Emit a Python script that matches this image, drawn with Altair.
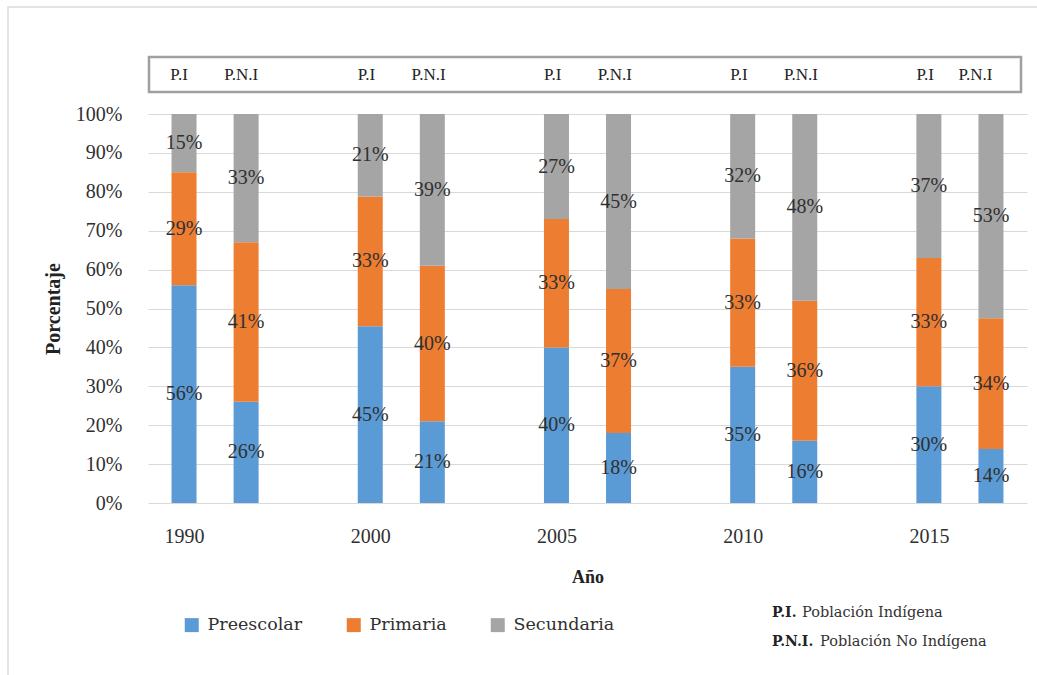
import altair as alt
import pandas as pd

# ---------------- data ----------------
years = ["1990", "2000", "2005", "2010", "2015"]
groups = ["P.I", "P.N.I"]
levels = ["Preescolar", "Primaria", "Secundaria"]
colors = ["#5b9bd5", "#ed7d31", "#a5a5a5"]

pi_preescolar = [56, 45, 40, 35, 30]
pi_primaria = [29, 33, 33, 33, 33]
pi_secundaria = [15, 21, 27, 32, 37]
pni_preescolar = [26, 21, 18, 16, 14]
pni_primaria = [41, 40, 37, 36, 34]
pni_secundaria = [33, 39, 45, 48, 53]

header_labels = ["P.I", "P.N.I"] * 5
header_slots = [-0.08, 0.92, 2.94, 3.94, 5.94, 6.94, 8.94, 9.94, 11.94, 12.75]

note_bold = ["P.I.", "P.N.I."]
note_text = ["Población Indígena", "Población No Indígena"]

y_ticks = [0, 0.1, 0.2, 0.3, 0.4, 0.5, 0.6, 0.7, 0.8, 0.9, 1.0]

# ---------------- table ----------------
series = {
    ("P.I", "Preescolar"): pi_preescolar,
    ("P.I", "Primaria"): pi_primaria,
    ("P.I", "Secundaria"): pi_secundaria,
    ("P.N.I", "Preescolar"): pni_preescolar,
    ("P.N.I", "Primaria"): pni_primaria,
    ("P.N.I", "Secundaria"): pni_secundaria,
}
rows = []
for gi, g in enumerate(groups):
    for li, lev in enumerate(levels):
        vals = series[(g, lev)]
        for yi, yr in enumerate(years):
            rows.append(dict(year=yr, group=g, slot=3 * yi + gi, level=lev,
                             order=li, value=vals[yi], label=f"{vals[yi]}%"))
df = pd.DataFrame(rows)
df_header = pd.DataFrame({"slot": header_slots, "txt": header_labels})

year_slots = [3 * i for i in range(len(years))]
label_expr = " : ".join(f"datum.value == {s} ? '{y}'" for s, y in zip(year_slots, years)) + " : ''"

W, H = 879, 389
FONT = "Liberation Serif"
FONT2 = "DejaVu Serif"
TXT = "#303030"

x_scale = alt.Scale(domain=[-0.5, 13.5], nice=False, zero=False)
y_scale = alt.Scale(domain=[0, 1], nice=False)

x_axis = alt.Axis(values=year_slots, labelExpr=label_expr, title="Año",
                  grid=False, ticks=False, tickSize=0, domain=False,
                  labelPadding=23, titlePadding=22,
                  labelFont=FONT, labelFontSize=20, labelColor=TXT,
                  titleFont=FONT, titleFontSize=18, titleFontWeight="bold",
                  titleColor="#222222")
y_axis = alt.Axis(values=y_ticks, format=".0%", title="Porcentaje",
                  grid=True, gridColor="#d9d9d9", gridWidth=1,
                  ticks=False, tickSize=0, domain=False,
                  labelOverlap=False,
                  labelPadding=26, titlePadding=12,
                  labelFont=FONT, labelFontSize=20, labelColor=TXT,
                  titleFont=FONT, titleFontSize=20, titleFontWeight="bold",
                  titleColor="#222222")

base = alt.Chart(df).transform_stack(
    stack="value", as_=["y0", "y1"], groupby=["slot"],
    sort=[alt.SortField("order", "ascending")], offset="normalize"
).transform_calculate(mid="(datum.y0 + datum.y1) / 2")

bars = base.mark_bar(size=25).encode(
    x=alt.X("slot:Q", scale=x_scale, axis=x_axis),
    y=alt.Y("y0:Q", scale=y_scale, axis=y_axis),
    y2="y1:Q",
    color=alt.Color("level:N", scale=alt.Scale(domain=levels, range=colors),
                    legend=alt.Legend(orient="none", legendX=35, legendY=502,
                                      direction="horizontal", title=None,
                                      symbolType="square", symbolSize=196,
                                      symbolStrokeWidth=0, labelFont=FONT2,
                                      labelFontSize=17.5, labelColor=TXT,
                                      columnPadding=42, labelOffset=7)),
    order=alt.Order("order:Q"),
)

labels = base.mark_text(font=FONT, fontSize=20, color=TXT, baseline="middle").encode(
    x=alt.X("slot:Q", scale=x_scale, axis=x_axis),
    y=alt.Y("mid:Q", scale=y_scale, axis=y_axis),
    text="label:N",
)

box = alt.Chart(pd.DataFrame({"k": [0]})).mark_rect(
    fillOpacity=0, stroke="#a0a0a0", strokeWidth=2.5
).encode(x=alt.value(1), x2=alt.value(873), y=alt.value(-57), y2=alt.value(-22))

frame = alt.Chart(pd.DataFrame({"k": [0]})).mark_rect(
    fillOpacity=0, stroke="#dcdcdc", strokeWidth=1.5
).encode(x=alt.value(-140), x2=alt.value(920), y=alt.value(-107), y2=alt.value(600))

header = alt.Chart(df_header).mark_text(
    font=FONT, fontSize=17, color="#222222", baseline="middle"
).encode(x=alt.X("slot:Q", scale=x_scale, axis=x_axis), y=alt.value(-39), text="txt:N")

def note(txt, x, y, bold):
    return alt.Chart(pd.DataFrame({"t": [txt]})).mark_text(
        font=FONT2, fontSize=14 if bold else 14.5, fontWeight="bold" if bold else "normal",
        color="#222222" if bold else "#333333", align="left", baseline="middle"
    ).encode(x=alt.value(x), y=alt.value(y), text="t:N")

n1b = note(note_bold[0], 624, 499, True)
n1t = note(note_text[0], 654, 499, False)
n2b = note(note_bold[1], 624, 528, True)
n2t = note(note_text[1], 672, 528, False)

chart = alt.layer(frame, box, bars, labels, header, n1b, n1t, n2b, n2t).properties(
    width=W, height=H,
    padding={"left": 148, "top": 114, "right": 10, "bottom": 172},
    autosize=alt.AutoSizeParams(type="none"),
    background="white",
).configure_view(stroke=None)

chart.save("out.html", embed_options={"renderer": "svg", "actions": False})
